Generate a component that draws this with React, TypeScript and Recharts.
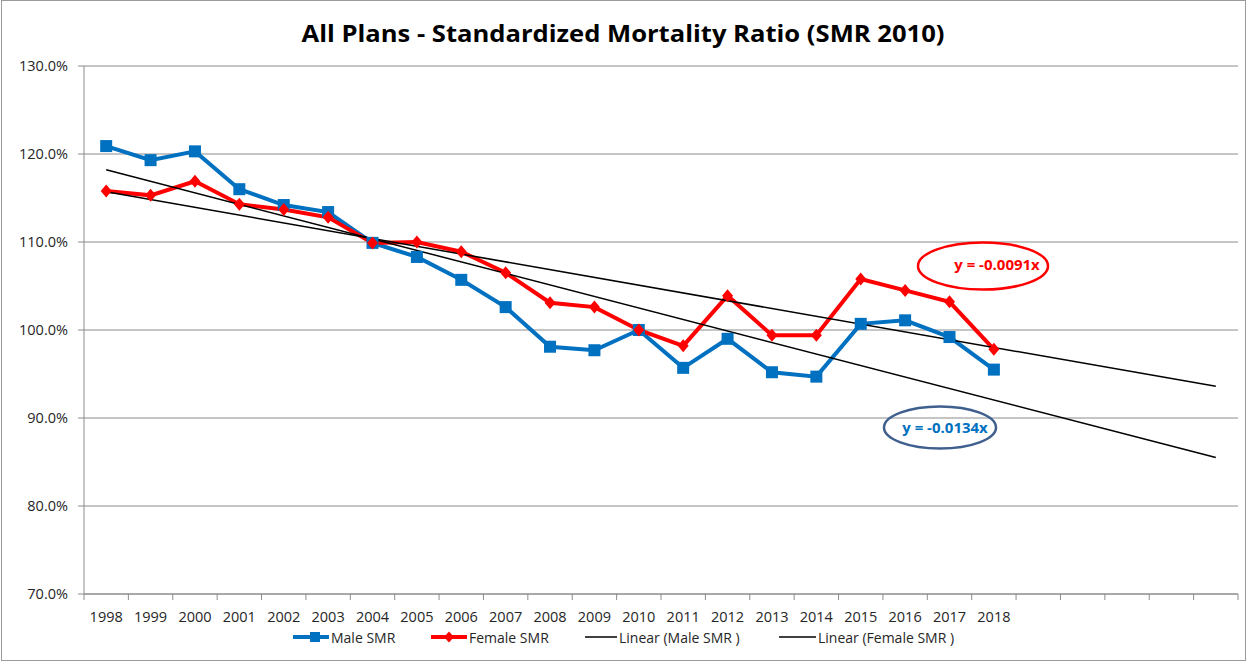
import React from "react"
import { LineChart, Line, XAxis, YAxis, CartesianGrid } from "recharts"

// observed years and values (in %)
const years = [1998, 1999, 2000, 2001, 2002, 2003, 2004, 2005, 2006, 2007, 2008, 2009, 2010, 2011, 2012, 2013, 2014, 2015, 2016, 2017, 2018]
const maleSMR = [120.9, 119.3, 120.3, 116.0, 114.2, 113.4, 109.9, 108.3, 105.7, 102.6, 98.1, 97.7, 100.0, 95.7, 99.0, 95.2, 94.7, 100.7, 101.1, 99.2, 95.5]
const femaleSMR = [115.8, 115.3, 116.9, 114.3, 113.7, 112.8, 109.9, 110.0, 108.9, 106.5, 103.1, 102.6, 100.0, 98.2, 103.9, 99.4, 99.4, 105.8, 104.5, 103.2, 97.8]

// empty categories the trendlines are projected into
const forecastYears = [2019, 2020, 2021, 2022, 2023]

// trendline end points
const trendYears = [1998, 2023]
const maleTrend = [118.2, 85.5]
const femaleTrend = [115.7, 93.6]

const yTicks = [70, 80, 90, 100, 110, 120, 130]

const FONT = "'Open Sans', 'DejaVu Sans', sans-serif"
const BLUE = "#0070C0"
const RED = "#FF0000"
const AXIS = "#8c8c8c"

const data = years.map((year, i) => ({ year, male: maleSMR[i], female: femaleSMR[i] }))
const maleTrendData = trendYears.map((year, i) => ({ year, value: maleTrend[i] }))
const femaleTrendData = trendYears.map((year, i) => ({ year, value: femaleTrend[i] }))

const allYears = [...years, ...forecastYears]
// centers get labels, half steps get the tick marks (category boundaries)
const xTicks = [...allYears.flatMap((y) => [y - 0.5, y]), allYears[allYears.length - 1] + 0.5]

const SquareDot = (props: any) => {
  const { cx, cy, index } = props
  if (cx == null || cy == null) return <g key={index} />
  return <rect key={index} x={cx - 6} y={cy - 6} width={12} height={12} fill={BLUE} />
}

const DiamondDot = (props: any) => {
  const { cx, cy, index } = props
  if (cx == null || cy == null) return <g key={index} />
  return (
    <polygon
      key={index}
      points={`${cx},${cy - 6.5} ${cx + 5.5},${cy} ${cx},${cy + 6.5} ${cx - 5.5},${cy}`}
      fill={RED}
    />
  )
}

const XTick = (props: any) => {
  const { x, y, payload } = props
  const v = payload.value
  if (Number.isInteger(v)) {
    if (!years.includes(v)) return <g />
    return (
      <text x={x} y={y + 28} textAnchor="middle" fontSize={14.5} fontFamily={FONT} fill="#262626">
        {v}
      </text>
    )
  }
  return <line x1={x} x2={x} y1={y} y2={y + 6} stroke={AXIS} />
}

export default function App() {
  return (
    <div style={{ position: "relative", width: 1247, height: 662, background: "#fff" }}>
      <style>{`body{margin:0}`}</style>
      <LineChart
        width={1247}
        height={662}
        margin={{ top: 66, right: 9, left: 0, bottom: 0 }}
        style={{ position: "absolute", left: 0, top: 0 }}
      >
        <CartesianGrid vertical={false} stroke={AXIS} strokeWidth={1.2} />
        <XAxis
          dataKey="year"
          type="number"
          domain={[1997.5, 2023.5]}
          ticks={xTicks}
          interval={0}
          tick={<XTick />}
          tickLine={false}
          tickSize={0}
          tickMargin={0}
          height={68}
          stroke={AXIS}
          allowDuplicatedCategory={false}
        />
        <YAxis
          domain={[70, 130]}
          ticks={yTicks}
          width={84}
          tickSize={6}
          tickMargin={10}
          stroke={AXIS}
          tick={{ fontSize: 14.5, fontFamily: FONT, fill: "#262626" }}
          tickFormatter={(v: number) => `${v.toFixed(1)}%`}
        />
        <Line
          data={data}
          dataKey="male"
          stroke={BLUE}
          strokeWidth={4}
          dot={<SquareDot />}
          activeDot={false}
          isAnimationActive={false}
        />
        <Line
          data={data}
          dataKey="female"
          stroke={RED}
          strokeWidth={4}
          dot={<DiamondDot />}
          activeDot={false}
          isAnimationActive={false}
        />
        <Line
          data={maleTrendData}
          dataKey="value"
          stroke="#000"
          strokeWidth={1.5}
          dot={false}
          activeDot={false}
          isAnimationActive={false}
        />
        <Line
          data={femaleTrendData}
          dataKey="value"
          stroke="#000"
          strokeWidth={1.5}
          dot={false}
          activeDot={false}
          isAnimationActive={false}
        />
      </LineChart>

      <svg
        width={1247}
        height={662}
        style={{ position: "absolute", left: 0, top: 0, pointerEvents: "none" }}
        fontFamily={FONT}
      >
        <rect x={1.5} y={0.5} width={1244} height={660} fill="none" stroke="#9a9a9a" />
        <text
          x={623}
          y={42}
          textAnchor="middle"
          fontSize={23}
          fontWeight="bold"
          fill="#000"
          textLength={643}
          lengthAdjust="spacingAndGlyphs"
        >
          All Plans - Standardized Mortality Ratio (SMR 2010)
        </text>

        {/* trendline equations */}
        <ellipse cx={983} cy={266} rx={65} ry={23.5} fill="none" stroke={RED} strokeWidth={2.5} />
        <text x={997} y={270} textAnchor="middle" fontSize={15} fontWeight="bold" fill={RED}>
          y = -0.0091x
        </text>
        <ellipse cx={940} cy={427.5} rx={56} ry={21} fill="none" stroke="#3f5f8f" strokeWidth={2.5} />
        <text x={945} y={433} textAnchor="middle" fontSize={15} fontWeight="bold" fill={BLUE}>
          y = -0.0134x
        </text>

        {/* legend */}
        <g fontSize={14} fill="#262626">
          <line x1={293} x2={329} y1={637} y2={637} stroke={BLUE} strokeWidth={4} />
          <rect x={310} y={632} width={10} height={10} fill={BLUE} />
          <text x={331} y={643}>Male SMR</text>

          <line x1={431} x2={467} y1={637} y2={637} stroke={RED} strokeWidth={4} />
          <polygon points="449,631.5 454,637 449,642.5 444,637" fill={RED} />
          <text x={469} y={643}>Female SMR</text>

          <line x1={585} x2={617} y1={637} y2={637} stroke="#000" strokeWidth={1.5} />
          <text x={619} y={643}>Linear (Male SMR )</text>

          <line x1={779} x2={816} y1={637} y2={637} stroke="#000" strokeWidth={1.5} />
          <text x={818} y={643}>Linear (Female SMR )</text>
        </g>
      </svg>
    </div>
  )
}
